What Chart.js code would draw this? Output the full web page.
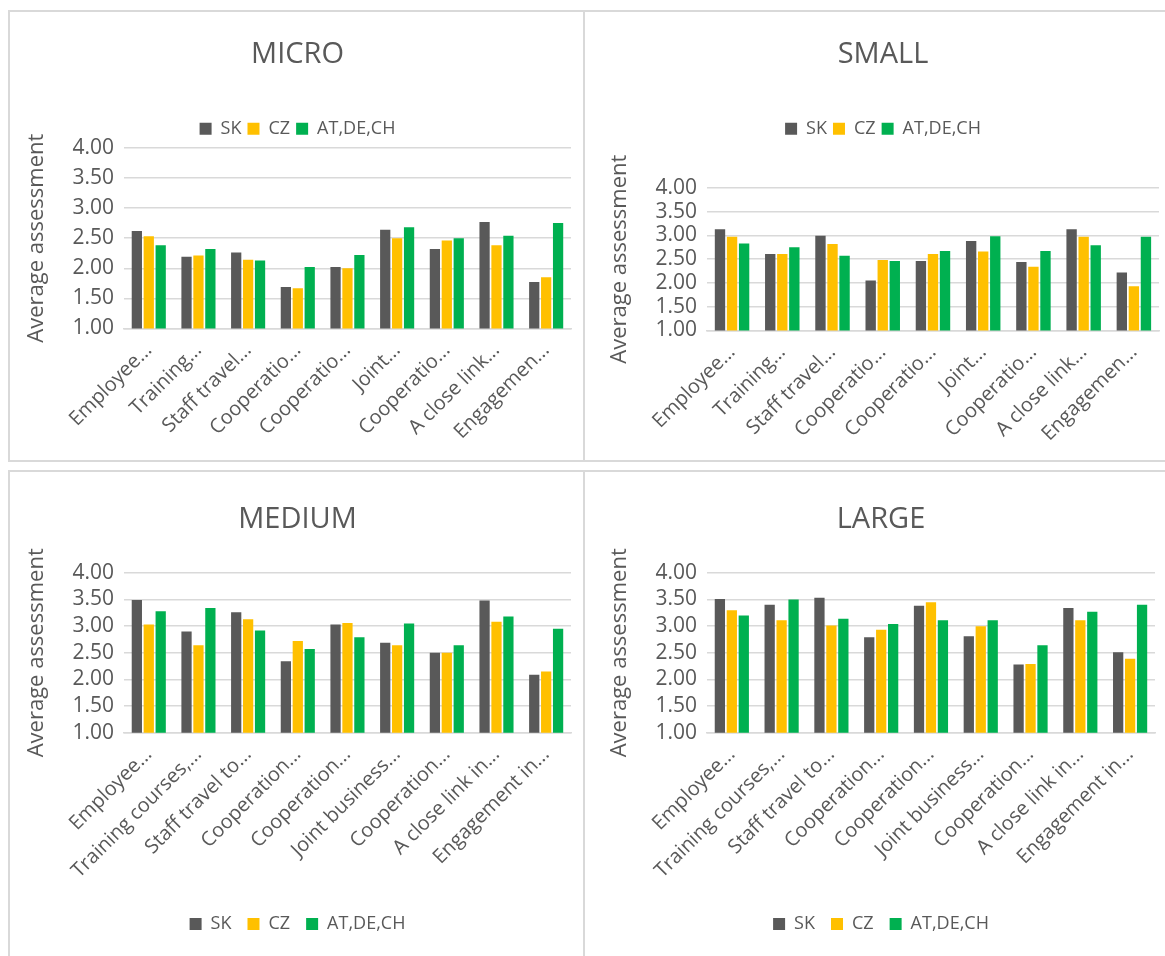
<!DOCTYPE html>
<html>
<head>
<meta charset="utf-8">
<script src="https://cdn.jsdelivr.net/npm/chart.js@4.4.1/dist/chart.umd.min.js"></script>
<style>
  html, body { margin: 0; padding: 0; background: #fff; }
  body { width: 1165px; height: 956px; position: relative; overflow: hidden; }
  .row { position: absolute; left: 8px; width: 1170px; border: 2px solid #d9d9d9; box-sizing: border-box; }
  .divider { position: absolute; left: 583px; width: 2px; background: #d9d9d9; }
  .panel { position: absolute; }
</style>
</head>
<body>
<div class="row" style="top:10px;height:452px;"></div>
<div class="row" style="top:470px;height:500px;"></div>
<div class="divider" style="top:10px;height:452px;"></div>
<div class="divider" style="top:470px;height:490px;"></div>

<div class="panel" style="left:10px;top:12px;width:573px;height:448px;"><canvas id="micro"></canvas></div>
<div class="panel" style="left:585px;top:12px;width:580px;height:448px;"><canvas id="small"></canvas></div>
<div class="panel" style="left:10px;top:472px;width:573px;height:484px;"><canvas id="medium"></canvas></div>
<div class="panel" style="left:585px;top:472px;width:580px;height:484px;"><canvas id="large"></canvas></div>

<script>
// Category labels (as truncated in the original figure)
const shortLabels = ['Employee...', 'Training...', 'Staff travel...', 'Cooperatio...', 'Cooperatio...',
  'Joint...', 'Cooperatio...', 'A close link...', 'Engagemen...'];
const longLabels = ['Employee...', 'Training courses,...', 'Staff travel to...', 'Cooperation...', 'Cooperation...',
  'Joint business...', 'Cooperation...', 'A close link in...', 'Engagement in...'];

const seriesNames = ['SK', 'CZ', 'AT,DE,CH'];
const seriesColors = ['#595959', '#FFC000', '#00B050'];

// MICRO
const microSK = [2.62, 2.19, 2.26, 1.69, 2.02, 2.64, 2.32, 2.77, 1.77];
const microCZ = [2.53, 2.21, 2.14, 1.67, 2.00, 2.50, 2.46, 2.38, 1.85];
const microATDECH = [2.38, 2.32, 2.13, 2.02, 2.22, 2.68, 2.50, 2.54, 2.75];

// SMALL
const smallSK = [3.13, 2.61, 2.99, 2.05, 2.46, 2.88, 2.44, 3.13, 2.22];
const smallCZ = [2.97, 2.61, 2.82, 2.48, 2.61, 2.66, 2.34, 2.97, 1.93];
const smallATDECH = [2.83, 2.75, 2.57, 2.46, 2.67, 2.98, 2.67, 2.79, 2.97];

// MEDIUM
const mediumSK = [3.49, 2.90, 3.26, 2.34, 3.03, 2.69, 2.50, 3.48, 2.09];
const mediumCZ = [3.03, 2.64, 3.13, 2.72, 3.06, 2.64, 2.50, 3.08, 2.15];
const mediumATDECH = [3.28, 3.34, 2.92, 2.57, 2.79, 3.05, 2.64, 3.18, 2.95];

// LARGE
const largeSK = [3.51, 3.40, 3.53, 2.79, 3.38, 2.81, 2.28, 3.34, 2.51];
const largeCZ = [3.30, 3.11, 3.01, 2.93, 3.45, 3.00, 2.29, 3.11, 2.39];
const largeATDECH = [3.20, 3.50, 3.14, 3.04, 3.11, 3.11, 2.64, 3.27, 3.40];

const yTicks = [1.0, 1.5, 2.0, 2.5, 3.0, 3.5, 4.0];

const FONT = '"Open Sans", sans-serif';
const GRAY = '#595959';

// adds extra space next to the legend; `shift` moves the legend items down inside it
function legendGap(gap, shift) {
  return {
    id: 'legendGap',
    beforeInit(chart) {
      const origFit = chart.legend.fit;
      chart.legend.fit = function () {
        origFit.bind(chart.legend)();
        this.height += gap;
      };
    },
    afterLayout(chart) {
      chart.legend.top += shift;
      chart.legend.bottom += shift;
    }
  };
}

function makeChart(id, title, labels, series, opts) {
  const datasets = series.map((values, i) => ({
    label: seriesNames[i],
    data: values,
    backgroundColor: seriesColors[i],
    borderWidth: 0,
    categoryPercentage: 0.72,
    barPercentage: 0.86
  }));

  new Chart(document.getElementById(id), {
    type: 'bar',
    data: { labels: labels, datasets: datasets },
    plugins: [legendGap(opts.legendGap, opts.legendShift)],
    options: {
      responsive: true,
      maintainAspectRatio: false,
      animation: false,
      devicePixelRatio: 1,
      layout: { padding: opts.padding },
      scales: {
        y: {
          min: 1,
          max: 4,
          afterBuildTicks: axis => { axis.ticks = yTicks.map(v => ({ value: v })); },
          ticks: {
            color: GRAY,
            font: { family: FONT, size: 21 },
            padding: 10,
            autoSkip: false,
            callback: v => Number(v).toFixed(2)
          },
          grid: { color: '#d9d9d9', lineWidth: 1.5, drawTicks: false },
          border: { display: false },
          title: {
            display: true,
            text: 'Average assessment',
            color: GRAY,
            font: { family: FONT, size: 22 },
            padding: { top: 0, bottom: 12 }
          }
        },
        x: {
          grid: { display: false },
          border: { color: '#d9d9d9', width: 1.5 },
          ticks: {
            color: GRAY,
            font: { family: FONT, size: 20 },
            minRotation: 45,
            maxRotation: 45,
            autoSkip: false,
            padding: 2
          }
        }
      },
      plugins: {
        title: {
          display: true,
          text: title,
          color: GRAY,
          font: { family: FONT, size: 29, weight: 'normal' },
          padding: opts.titlePadding
        },
        legend: {
          position: opts.legendPos,
          labels: {
            color: GRAY,
            font: { family: FONT, size: 18 },
            boxWidth: 12,
            boxHeight: 12,
            padding: opts.legendPad
          }
        },
        tooltip: { enabled: false }
      }
    }
  });
}

makeChart('micro', 'MICRO', shortLabels, [microSK, microCZ, microATDECH], {
  legendPos: 'top', legendGap: 0, legendShift: 0, legendPad: 6,
  titlePadding: { top: 25, bottom: 42 },
  padding: { left: 14, right: 12, top: 0, bottom: 14 }
});
makeChart('small', 'SMALL', shortLabels, [smallSK, smallCZ, smallATDECH], {
  legendPos: 'top', legendGap: 40, legendShift: 0, legendPad: 6,
  titlePadding: { top: 25, bottom: 42 },
  padding: { left: 22, right: 6, top: 0, bottom: 12 }
});
makeChart('medium', 'MEDIUM', longLabels, [mediumSK, mediumCZ, mediumATDECH], {
  legendPos: 'bottom', legendGap: 27, legendShift: 14, legendPad: 16,
  titlePadding: { top: 30, bottom: 36 },
  padding: { left: 14, right: 12, top: 0, bottom: 0 }
});
makeChart('large', 'LARGE', longLabels, [largeSK, largeCZ, largeATDECH], {
  legendPos: 'bottom', legendGap: 27, legendShift: 14, legendPad: 16,
  titlePadding: { top: 30, bottom: 36 },
  padding: { left: 22, right: 10, top: 0, bottom: 0 }
});
</script>
</body>
</html>
